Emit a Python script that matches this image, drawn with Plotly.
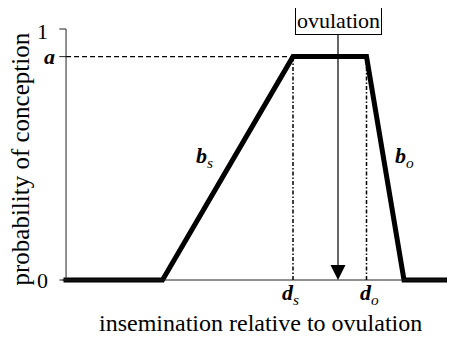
import plotly.graph_objects as go

# conception-probability window (x in days relative to ovulation)
curve_x = [-18.3, -11.7, -3.0, 1.9, 4.4, 7.8]
curve_y = [0, 0, 0.89, 0.89, 0, 0]
a_level = 0.89
d_s = -3.0
d_o = 1.9
ovulation_x = 0.0
y_ticks = [0, 1]

AXIS_X = -18.13
# page body has an 8px margin, so the figure is a little smaller than the window
X_RANGE = [-22.0, 7.8]
Y_RANGE = [-0.2271, 1.0837]
FONT = "Liberation Serif"

fig = go.Figure()

# baseline and y axis
fig.add_shape(type="line", x0=AXIS_X - 0.25, x1=X_RANGE[1], y0=0, y1=0,
              line=dict(color="#222", width=1))
fig.add_shape(type="line", x0=AXIS_X, x1=AXIS_X, y0=0, y1=1,
              line=dict(color="#222", width=1))
for t in y_ticks + [a_level]:
    fig.add_shape(type="line", x0=AXIS_X - 0.45, x1=AXIS_X, y0=t, y1=t,
                  line=dict(color="#222", width=1))

# guide lines
fig.add_shape(type="line", x0=AXIS_X, x1=d_s, y0=a_level, y1=a_level,
              line=dict(color="black", width=1.2, dash="5px,3px"))
for d in (d_s, d_o):
    fig.add_shape(type="line", x0=d, x1=d, y0=0, y1=a_level,
                  line=dict(color="black", width=1.5, dash="4px,2px,1.5px,2px"))

fig.add_trace(go.Scatter(x=curve_x, y=curve_y, mode="lines",
                         line=dict(color="black", width=5), hoverinfo="skip"))

# ovulation box and arrow
fig.add_annotation(x=ovulation_x, y=0, ax=ovulation_x, ay=1.034,
                   xref="x", yref="y", axref="x", ayref="y",
                   text="ovulation", showarrow=True, arrowhead=2,
                   arrowsize=2.5, arrowwidth=1.2, arrowcolor="black",
                   bordercolor="black", borderwidth=1, borderpad=1,
                   bgcolor="white", font=dict(family=FONT, size=22, color="black"))

def label(text, x, y, size=22, **kw):
    fig.add_annotation(x=x, y=y, text=text, showarrow=False, xref="x", yref="y",
                       font=dict(family=FONT, size=size, color="black"), **kw)

label("1", AXIS_X - 1.6, 0.99)
label("0", AXIS_X - 1.6, 0.0)
label("<b><i>a</i></b>", AXIS_X - 0.6, a_level, xanchor="right")
label("<b><i>b</i></b><sub><i>s</i></sub>", -8.9, 0.49)
label("<b><i>b</i></b><sub><i>o</i></sub>", 4.4, 0.49)
label("<b><i>d</i></b><sub><i>s</i></sub>", -3.2, -0.054)
label("<b><i>d</i></b><sub><i>o</i></sub>", 2.1, -0.054)
label("insemination relative to ovulation", -5.2, -0.17, size=24)
label("probability of conception", -20.6, 0.48, size=25, textangle=-90,
      xshift=-8)

fig.update_xaxes(range=X_RANGE, visible=False)
fig.update_yaxes(range=Y_RANGE, visible=False)
fig.update_layout(width=447, height=329, margin=dict(l=0, r=0, t=0, b=0),
                  plot_bgcolor="white", paper_bgcolor="white", showlegend=False)

fig.write_html("out.html")
